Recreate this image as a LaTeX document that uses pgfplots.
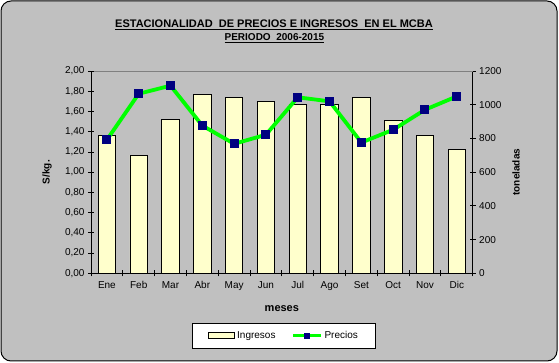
\documentclass[border=0pt]{standalone}
\usepackage{pgfplots}
\pgfplotsset{compat=1.18}
\usepackage{fontspec}
\setmainfont{Liberation Sans}
\definecolor{bgray}{HTML}{C0C0C0}
\definecolor{barfill}{HTML}{FFFFCC}
\definecolor{lgreen}{HTML}{00FF00}
\definecolor{navy}{HTML}{000080}
\pgfplotsset{/pgf/number format/assume math mode=true}
\begin{document}
\begin{tikzpicture}
\path[use as bounding box] (0pt,0pt) rectangle (559pt,363pt);
\draw[fill=bgray, draw=black, line width=1pt, rounded corners=10pt] (1pt,2pt) rectangle (557pt,362pt);
\node[anchor=base, font=\fontsize{11}{13}\selectfont\bfseries] at (274pt,335.7pt) {\underline{ESTACIONALIDAD\ \ DE PRECIOS E INGRESOS\ \ EN EL MCBA}};
\node[anchor=base, font=\fontsize{10}{12}\selectfont\bfseries] at (274.4pt,322pt) {\underline{PERIODO\ \ 2006-2015}};
\begin{axis}[
  at={(91pt,89.7pt)}, anchor=south west,
  width=381.7pt, height=202.3pt, scale only axis,
  xmin=-0.5, xmax=11.5, ymin=0, ymax=1200,
  axis x line*=bottom, axis y line*=right,
  axis line style={black, line width=0.8pt},
  xtick={0,...,11},
  xticklabels={Ene,Feb,Mar,Abr,May,Jun,Jul,Ago,Set,Oct,Nov,Dic},
  major x tick style={draw=none},
  minor xtick={-0.5,0.5,...,11.5},
  ytick={0,200,...,1200},
  tick align=center, major tick length=6pt, minor tick length=6pt,
  tick style={black, line width=0.8pt},
  ticklabel style={font=\fontsize{10}{12}\selectfont},
  xticklabel style={yshift=-1.5pt},
  /pgf/number format/1000 sep={},
  ylabel={toneladas},
  every axis y label/.style={at={(rel axis cs:1.1134,0.5)}, rotate=90, anchor=center, font=\fontsize{10}{12}\selectfont\bfseries},
  xlabel={meses},
  every axis x label/.style={at={(rel axis cs:0.5,-0.1765)}, anchor=center, font=\fontsize{11}{13}\selectfont\bfseries},
  clip=false,
]
\draw[gray, line width=0.8pt] (rel axis cs:0,1) -- (rel axis cs:1,1);
\addplot[ybar, bar width=17.5pt, fill=barfill, draw=black, line width=0.8pt] coordinates {
(0,820) (1,701) (2,913) (3,1063) (4,1045) (5,1022) (6,1004) (7,1004) (8,1045) (9,909) (10,820) (11,737)};
\end{axis}
\begin{axis}[
  at={(91pt,89.7pt)}, anchor=south west,
  width=381.7pt, height=202.3pt, scale only axis,
  xmin=-0.5, xmax=11.5, ymin=0, ymax=2,
  axis x line=none, axis y line*=left,
  axis line style={black, line width=0.8pt},
  ytick={0,0.2,...,2.01},
  tick align=center, major tick length=6pt,
  tick style={black, line width=0.8pt},
  ticklabel style={font=\fontsize{10}{12}\selectfont},
  yticklabel style={/pgf/number format/.cd, fixed, fixed zerofill, precision=2, use comma},
  ylabel={S/kg.},
  every axis y label/.style={at={(rel axis cs:-0.1153,0.5)}, rotate=90, anchor=center, font=\fontsize{10}{12}\selectfont\bfseries},
  legend style={at={(rel axis cs:0.506,-0.309)}, anchor=center, draw=black, line width=0.8pt, fill=white,
    inner xsep=16pt, inner ysep=6pt, legend columns=2,
    font=\fontsize{10}{12}\selectfont,
    /tikz/every even column/.append style={column sep=14pt}},
  legend cell align=left,
  clip=false,
]
\addlegendimage{legend image code/.code={\draw[fill=barfill, draw=black, line width=0.8pt] (0pt,-3pt) rectangle (26pt,3pt);}}
\addlegendentry{Ingresos}
\addplot[lgreen, line width=3.8pt, mark=square*, mark size=4pt, mark options={fill=navy, draw=navy, line width=0pt},
  legend image code/.code={\draw[lgreen, line width=3pt] (0pt,0pt) -- (28pt,0pt); \path[fill=navy, draw=none] (11pt,-3pt) rectangle (17pt,3pt);}] coordinates {
(0,1.32) (1,1.775) (2,1.855) (3,1.46) (4,1.28) (5,1.37) (6,1.74) (7,1.70) (8,1.293) (9,1.419) (10,1.617) (11,1.749)};
\addlegendentry{Precios}
\end{axis}
\end{tikzpicture}
\end{document}
